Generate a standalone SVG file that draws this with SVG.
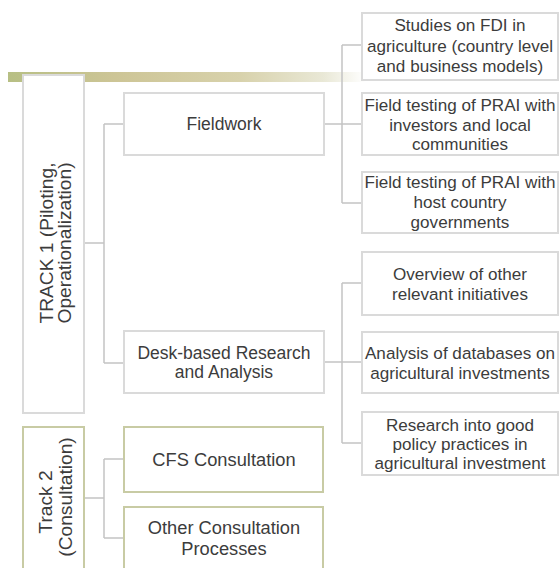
<svg xmlns="http://www.w3.org/2000/svg" width="560" height="568" viewBox="0 0 560 568">
<defs>
<linearGradient id="bar" x1="0" y1="0" x2="1" y2="0">
<stop offset="0" stop-color="#b7bf84"/>
<stop offset="0.3" stop-color="#cdc596"/>
<stop offset="0.65" stop-color="#d8d2ac"/>
<stop offset="0.88" stop-color="#e9e8d6"/>
<stop offset="1" stop-color="#ffffff"/>
</linearGradient>
<style>
.g{fill:#ffffff;stroke:#dadada;stroke-width:2}
.o{fill:#ffffff;stroke:#c8cba4;stroke-width:2}
.t{font-family:"Liberation Sans",Arial,sans-serif;fill:#3c3c3c;text-anchor:middle}
.s{font-size:17.5px}
.q{font-size:17.1px}
.m{font-size:18.3px}
.r{font-size:19.2px}
.c{fill:none;stroke:#c4c4c4;stroke-width:1.5}
</style>
</defs>
<rect x="0" y="0" width="560" height="568" fill="#ffffff"/>
<rect x="8" y="72" width="358" height="10" fill="url(#bar)"/>
<g id="connectors">
<path class="c" d="M84 243H104M104 124V363M104 124H124M104 363H124"/>
<path class="c" d="M324 124H342M342 45V203M342 45H362M342 124H362M342 203H362"/>
<path class="c" d="M324 362H342M342 283V443M342 283H362M342 362H362M342 443H362"/>
<path class="c" d="M84 498H104M104 459V538M104 459H124M104 538H124"/>
</g>
<g id="track1">
<rect class="g" x="23" y="75" width="61" height="338"/>
<text class="t r" transform="translate(46 243) rotate(-90)" y="7">TRACK 1 (Piloting,</text>
<text class="t r" transform="translate(64 243) rotate(-90)" y="7">Operationalization)</text>
</g>
<g id="track2">
<rect class="o" x="23" y="427" width="61" height="170"/>
<text class="t r" transform="translate(45 502) rotate(-90)" y="7">Track 2</text>
<text class="t r" transform="translate(65 497) rotate(-90)" y="7">(Consultation)</text>
</g>
<g id="fieldwork">
<rect class="g" x="124" y="93" width="200" height="62"/>
<text class="t s" x="224" y="130">Fieldwork</text>
</g>
<g id="desk">
<rect class="g" x="124" y="331" width="200" height="62"/>
<text class="t s" x="224" y="359">Desk-based Research</text>
<text class="t s" x="224" y="378">and Analysis</text>
</g>
<g id="cfs">
<rect class="o" x="124" y="427" width="199" height="65"/>
<text class="t m" x="224" y="466">CFS Consultation</text>
</g>
<g id="other">
<rect class="o" x="124" y="507" width="199" height="90"/>
<text class="t m" x="224" y="534">Other Consultation</text>
<text class="t m" x="224" y="555">Processes</text>
</g>
<g id="studies">
<rect class="g" x="362" y="13" width="196" height="67"/>
<text class="t q" x="460" y="31">Studies on FDI in</text>
<text class="t q" x="460" y="52">agriculture (country level</text>
<text class="t q" x="460" y="72">and business models)</text>
</g>
<g id="fieldtest1">
<rect class="g" x="362" y="93" width="196" height="62"/>
<text class="t q" x="460" y="111">Field testing of PRAI with</text>
<text class="t q" x="460" y="131">investors and local</text>
<text class="t q" x="460" y="150">communities</text>
</g>
<g id="fieldtest2">
<rect class="g" x="362" y="172" width="196" height="61"/>
<text class="t q" x="460" y="188">Field testing of PRAI with</text>
<text class="t q" x="460" y="208">host country</text>
<text class="t q" x="460" y="228">governments</text>
</g>
<g id="overview">
<rect class="g" x="362" y="252" width="196" height="63"/>
<text class="t q" x="460" y="280">Overview of other</text>
<text class="t q" x="460" y="300">relevant initiatives</text>
</g>
<g id="analysis">
<rect class="g" x="362" y="332" width="196" height="61"/>
<text class="t q" x="460" y="359">Analysis of databases on</text>
<text class="t q" x="460" y="379">agricultural investments</text>
</g>
<g id="research">
<rect class="g" x="362" y="412" width="196" height="63"/>
<text class="t q" x="460" y="431">Research into good</text>
<text class="t q" x="460" y="450">policy practices in</text>
<text class="t q" x="460" y="469">agricultural investment</text>
</g>
</svg>
